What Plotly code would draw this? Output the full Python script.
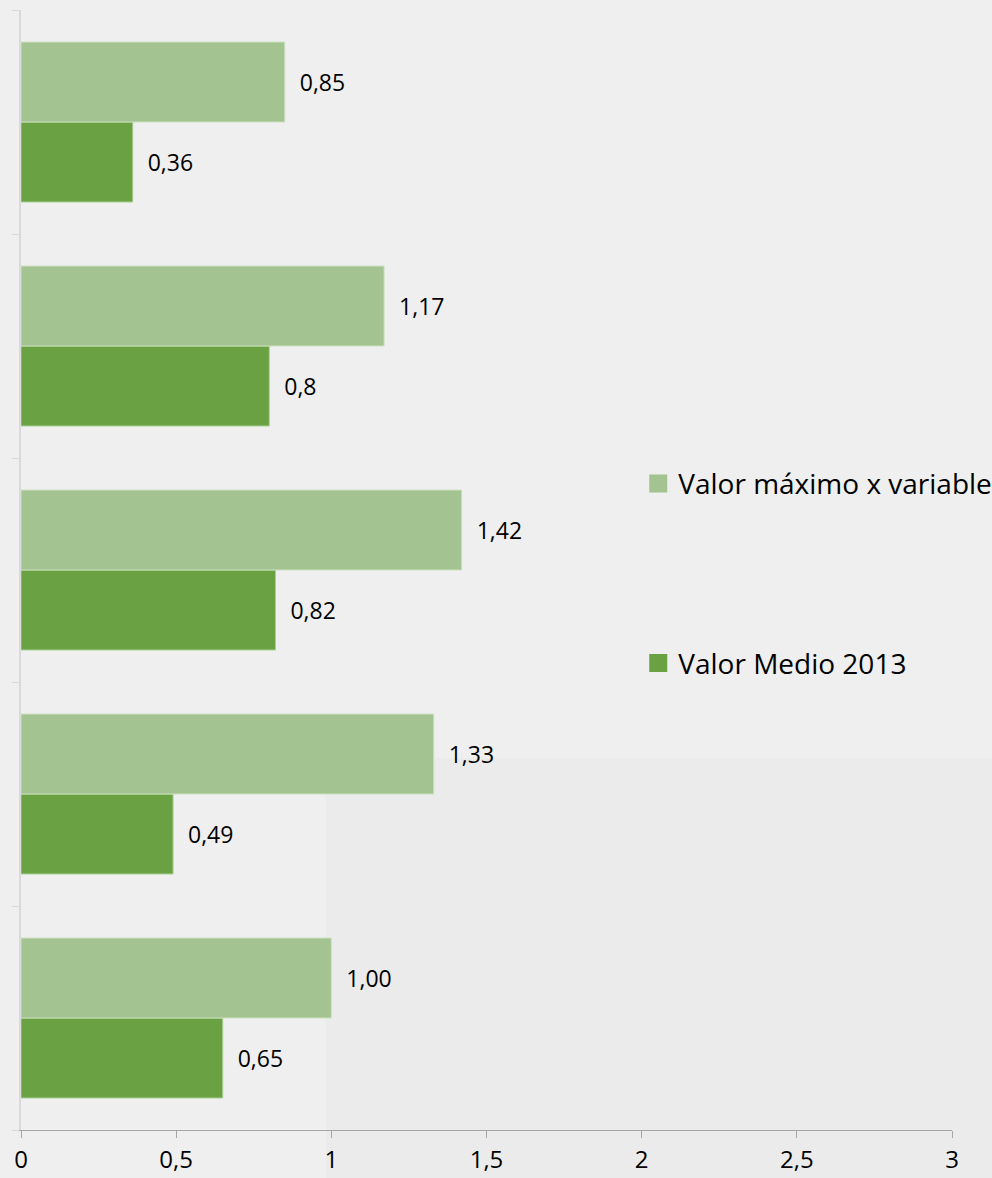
import plotly.graph_objects as go

# Categories listed bottom-to-top (no visible labels in the reference)
categories = ["C5", "C4", "C3", "C2", "C1"]
valor_maximo = [1.00, 1.33, 1.42, 1.17, 0.85]
valor_maximo_labels = ["1,00", "1,33", "1,42", "1,17", "0,85"]
valor_medio = [0.65, 0.49, 0.82, 0.80, 0.36]
valor_medio_labels = ["0,65", "0,49", "0,82", "0,8", "0,36"]
x_ticks = [0, 0.5, 1, 1.5, 2, 2.5, 3]
x_tick_labels = ["0", "0,5", "1", "1,5", "2", "2,5", "3"]

FONT = "Open Sans"
pad = "\u00a0\u00a0"
LIGHT = "#a3c490"
DARK = "#69a143"

fig = go.Figure()
fig.add_trace(go.Bar(
    y=categories, x=valor_medio, orientation="h", name="Valor Medio 2013",
    showlegend=False,
    marker=dict(color=DARK, line=dict(color="#a9cf8f", width=1)),
    text=[pad + t for t in valor_medio_labels], textposition="outside",
    textfont=dict(family=FONT, size=23, color="#000000"),
    constraintext="none", cliponaxis=False, hoverinfo="skip",
))
fig.add_trace(go.Bar(
    y=categories, x=valor_maximo, orientation="h", name="Valor máximo x variable",
    showlegend=False,
    marker=dict(color=LIGHT, line=dict(color="#cde0c1", width=1)),
    text=[pad + t for t in valor_maximo_labels], textposition="outside",
    textfont=dict(family=FONT, size=23, color="#000000"),
    constraintext="none", cliponaxis=False, hoverinfo="skip",
))
# legend entries with square swatches
fig.add_trace(go.Scatter(
    x=[None], y=[None], mode="markers", name="Valor máximo x variable",
    legendgroup="a", legendrank=1,
    marker=dict(symbol="square", size=16, color=LIGHT, line=dict(color=LIGHT, width=2)),
))
fig.add_trace(go.Scatter(
    x=[None], y=[None], mode="markers", name="Valor Medio 2013",
    legendgroup="b", legendrank=2,
    marker=dict(symbol="square", size=16, color=DARK, line=dict(color=DARK, width=2)),
))

fig.update_layout(
    width=992, height=1178,
    margin=dict(l=21, r=40, t=10, b=48, autoexpand=False),
    paper_bgcolor="#efefef", plot_bgcolor="rgba(0,0,0,0)",
    separators=",.",
    barmode="group", bargap=0.286, bargroupgap=0,
    font=dict(family=FONT, size=23, color="#000000"),
    showlegend=True,
    legend=dict(
        traceorder="grouped", tracegroupgap=140,
        x=0.663, y=0.497, xanchor="left", yanchor="middle",
        bgcolor="rgba(0,0,0,0)", font=dict(family=FONT, size=28),
        itemwidth=30,
    ),
    xaxis=dict(
        range=[0, 3], tickvals=x_ticks, ticktext=x_tick_labels, automargin=False,
        showgrid=False, zeroline=False, showline=True, linecolor="#a6a6a6", linewidth=1,
        ticks="outside", ticklen=7, tickcolor="#a6a6a6", ticklabelstandoff=1,
        tickfont=dict(family=FONT, size=24, color="#000000"),
    ),
    yaxis=dict(
        type="category", categoryorder="array", categoryarray=categories,
        showticklabels=False, showgrid=False, zeroline=False, automargin=False,
        showline=True, linecolor="#d9d9d9", linewidth=2,
        ticks="outside", ticklen=7, tickcolor="#d9d9d9", tickson="boundaries",
    ),
    shapes=[dict(
        type="rect", xref="paper", yref="paper", x0=(326 - 21) / 931, x1=1.1,
        y0=-0.2, y1=(1130 - 758) / 1120, fillcolor="#ebebeb", line=dict(width=0),
        layer="below",
    )],
)

fig.write_html(
    "out.html",
    config={"displayModeBar": False},
    post_script="document.body.style.margin='0';document.body.style.background='#efefef';",
)
